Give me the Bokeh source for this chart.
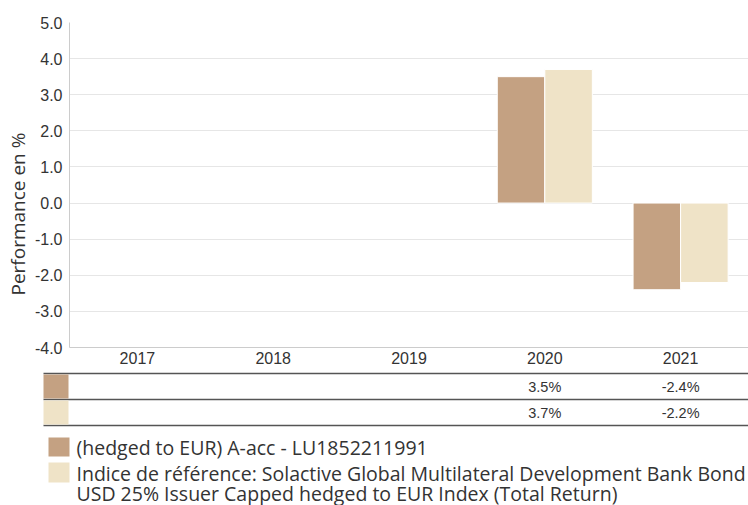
from bokeh.plotting import figure
from bokeh.layouts import column
from bokeh.models import (ColumnDataSource, FactorRange, Range1d, FixedTicker,
                          NumeralTickFormatter, Title)
from bokeh.transform import dodge
from bokeh.core.properties import value
from bokeh.embed import file_html
from bokeh.resources import INLINE

years = ["2017", "2018", "2019", "2020", "2021"]
fund = [float("nan"), float("nan"), float("nan"), 3.5, -2.4]
index = [float("nan"), float("nan"), float("nan"), 3.7, -2.2]
fund_labels = ["", "", "", "3.5%", "-2.4%"]
index_labels = ["", "", "", "3.7%", "-2.2%"]
y_ticks = [-4, -3, -2, -1, 0, 1, 2, 3, 4, 5]
legend_fund = "(hedged to EUR) A-acc - LU1852211991"
legend_index_1 = "Indice de référence: Solactive Global Multilateral Development Bank Bond"
legend_index_2 = "USD 25% Issuer Capped hedged to EUR Index (Total Return)"

C_FUND = "#C4A182"
C_INDEX = "#EFE3C7"
TXT = "#333333"

W = 748
LEFT = 69
FRAME_W = W - LEFT
H1 = 370
H2 = 135

src = ColumnDataSource(dict(year=years, fund=fund, index=index))

p1 = figure(x_range=FactorRange(*years), y_range=Range1d(-4, 5),
            width=W, height=H1, output_backend="svg", toolbar_location=None,
            min_border_left=LEFT, min_border_right=0, min_border_top=22,
            min_border_bottom=23)
p1.frame_align = False
p1.outline_line_color = None
p1.vbar(x=dodge("year", -0.175, range=p1.x_range), top="fund", bottom=0,
        width=0.35, source=src, fill_color=C_FUND, line_color="white", line_width=1)
p1.vbar(x=dodge("year", 0.175, range=p1.x_range), top="index", bottom=0,
        width=0.35, source=src, fill_color=C_INDEX, line_color="white", line_width=1)

p1.xgrid.grid_line_color = None
p1.ygrid.grid_line_color = "#e6e6e6"
p1.yaxis.ticker = FixedTicker(ticks=y_ticks)
p1.yaxis.formatter = NumeralTickFormatter(format="0.0")
for ax in (p1.xaxis[0], p1.yaxis[0]):
    ax.axis_line_color = "#cccccc"
    ax.major_tick_line_color = None
    ax.minor_tick_line_color = None
    ax.major_tick_out = 0
    ax.major_tick_in = 0
    ax.minor_tick_out = 0
    ax.minor_tick_in = 0
    ax.major_label_text_font = "Liberation Sans"
    ax.major_label_text_font_size = "16px"
    ax.major_label_text_color = TXT
p1.yaxis.major_label_standoff = 7
p1.xaxis.major_label_standoff = 4

p1.add_layout(Title(text="Performance en %", align="left", offset=52,
                    standoff=2,
                    text_font="Open Sans", text_font_size="19px",
                    text_font_style="normal", text_color=TXT), "left")

# table + legend panel (pixel-aligned with the chart's category scale)
unit = FRAME_W / len(years)
def ux(page_x):
    return (page_x - LEFT) / unit

p2 = figure(x_range=Range1d(ux(0), ux(W)), y_range=Range1d(H2, 0),
            width=W, height=H2, output_backend="svg", toolbar_location=None,
            min_border=0, x_axis_location=None, y_axis_location=None)
p2.frame_align = False
p2.grid.visible = False
p2.outline_line_color = None

def uy(page_y):
    return page_y - H1

xs = [i + 0.5 for i in range(len(years))]
ly = [uy(373), uy(399), uy(425)]
p2.segment(x0=[ux(43)] * 3, x1=[ux(748)] * 3, y0=ly, y1=ly,
           line_color="#555555", line_width=1.6)
p2.quad(left=[ux(43), ux(43)], right=[ux(68), ux(68)], top=[uy(374), uy(400)],
        bottom=[uy(398), uy(424)], fill_color=[C_FUND, C_INDEX], line_color=None)
p2.text(x=xs, y=[uy(386)] * 5, text=fund_labels, text_align="center",
        text_baseline="middle", text_font=value("Liberation Sans"),
        text_font_size="14.5px", text_color=TXT)
p2.text(x=xs, y=[uy(412)] * 5, text=index_labels, text_align="center",
        text_baseline="middle", text_font=value("Liberation Sans"),
        text_font_size="14.5px", text_color=TXT)

p2.quad(left=[ux(48), ux(48)], right=[ux(69), ux(69)], top=[uy(437), uy(462)],
        bottom=[uy(456), uy(482)], fill_color=[C_FUND, C_INDEX], line_color=None)
p2.text(x=[ux(76)] * 3, y=[uy(447), uy(473), uy(493)],
        text=[legend_fund, legend_index_1, legend_index_2],
        text_align="left", text_baseline="middle",
        text_font=value("Open Sans"), text_font_size="19.5px", text_color=TXT)

layout = column(p1, p2, spacing=0)
open("out.html", "w").write(file_html(layout, INLINE))
